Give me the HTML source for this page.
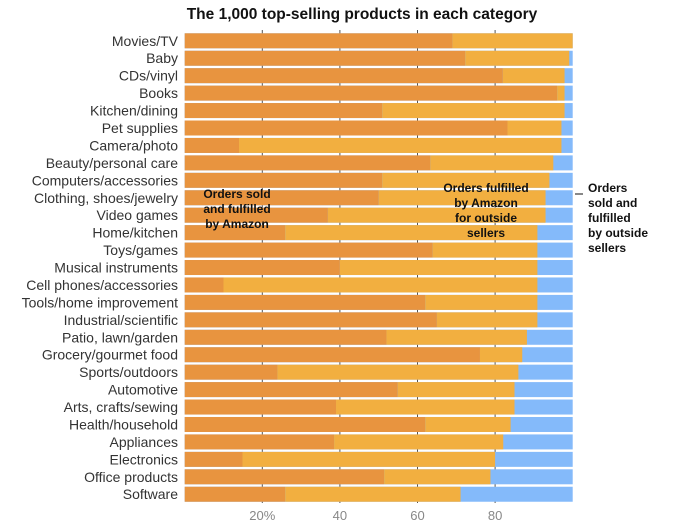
<!DOCTYPE html>
<html><head><meta charset="utf-8"><style>
body{margin:0;background:#fff;}
svg{display:block;font-family:"Liberation Sans",sans-serif;}
</style></head><body>
<svg width="700" height="525" viewBox="0 0 700 525" id="chart">
<text x="362" y="19" text-anchor="middle" font-size="15.5" font-weight="bold" fill="#111">The 1,000 top-selling products in each category</text>
<g id="grid"></g><g id="bars"></g><g id="labels"></g><g id="ticks"></g>
<g font-size="12" font-weight="bold" fill="#111" text-anchor="middle">
<text x="237" y="198">Orders sold</text><text x="237" y="213">and fulfilled</text><text x="237" y="228">by Amazon</text></g>
<g font-size="12" font-weight="bold" fill="#111" text-anchor="middle">
<text x="486" y="192">Orders fulfilled</text><text x="486" y="207">by Amazon</text><text x="486" y="222">for outside</text><text x="486" y="237">sellers</text></g>
<line x1="575" y1="194" x2="583" y2="194" stroke="#111"/>
<g font-size="12" font-weight="bold" fill="#111">
<text x="588" y="192">Orders</text><text x="588" y="207">sold and</text><text x="588" y="222">fulfilled</text><text x="588" y="237">by outside</text><text x="588" y="252">sellers</text></g>
</svg>
<script>
const categories=["Movies/TV","Baby","CDs/vinyl","Books","Kitchen/dining","Pet supplies","Camera/photo","Beauty/personal care","Computers/accessories","Clothing, shoes/jewelry","Video games","Home/kitchen","Toys/games","Musical instruments","Cell phones/accessories","Tools/home improvement","Industrial/scientific","Patio, lawn/garden","Grocery/gourmet food","Sports/outdoors","Automotive","Arts, crafts/sewing","Health/household","Appliances","Electronics","Office products","Software"];
const amazonPct=[69,72.3,82,96,50.9,83.2,14,63.3,50.9,50,36.9,25.9,63.9,40,10,62,65,52,76.1,23.9,54.9,39,62,38.5,14.9,51.4,25.9];
const fbaPct=[31,26.8,15.9,1.9,47,13.9,83.1,31.7,43.1,43,56.1,65,27,50.9,80.9,28.9,25.9,36.2,10.9,62.1,30.1,46,22,43.6,65.1,27.4,45.2];
const tickValues=[20,40,60,80];
const tickLabels=["20%","40","60","80"];
const NS="http://www.w3.org/2000/svg";
const x0=184.7,x100=572.7,y0=33.3,pitch=17.44,bh=15;
const xs=v=>x0+(x100-x0)*v/100;
const ys=i=>y0+i*pitch;
function mk(t,a,p){const e=document.createElementNS(NS,t);for(const k in a)e.setAttribute(k,a[k]);p.appendChild(e);return e;}
const g=document.getElementById('grid'),b=document.getElementById('bars'),l=document.getElementById('labels'),tk=document.getElementById('ticks');
tickValues.forEach((v,i)=>{
 const ln=mk('line',{x1:xs(v),x2:xs(v),y1:30,y2:503,stroke:'#555','stroke-width':1},g);
 
 
 const t=mk('text',{x:xs(v),y:520,'text-anchor':'middle','font-size':13,fill:'#888'},tk);
 t.textContent=tickLabels[i];
 
 
});
categories.forEach((c,i)=>{
 const y=ys(i),a=amazonPct[i],f=fbaPct[i];
 const r0=mk('rect',{x:xs(0),y:y,width:xs(100)-xs(0),height:bh,fill:'#84BAFA'},b);
 
 
 const r1=mk('rect',{x:xs(0),y:y,width:xs(a)-xs(0),height:bh,fill:'#E8943F'},b);
 
 
 const r2=mk('rect',{x:xs(a),y:y,width:xs(a+f)-xs(a),height:bh,fill:'#F2AF40'},b);
 
 
 const t=mk('text',{x:178,y:y+12.5,'text-anchor':'end','font-size':14,fill:'#333'},l);
 t.textContent=c;
 
 
});
</script>
</body></html>
